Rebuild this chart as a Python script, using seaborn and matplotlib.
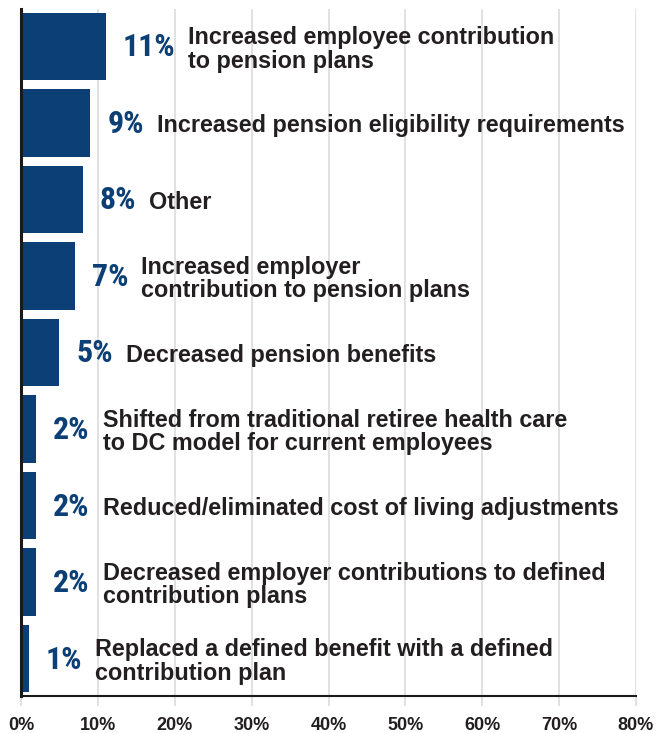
import matplotlib
matplotlib.use("Agg")
import matplotlib.pyplot as plt
import seaborn as sns
import pandas as pd

labels = [
    "Increased employee contribution\nto pension plans",
    "Increased pension eligibility requirements",
    "Other",
    "Increased employer\ncontribution to pension plans",
    "Decreased pension benefits",
    "Shifted from traditional retiree health care\nto DC model for current employees",
    "Reduced/eliminated cost of living adjustments",
    "Decreased employer contributions to defined\ncontribution plans",
    "Replaced a defined benefit with a defined\ncontribution plan",
]
values = [11, 9, 8, 7, 5, 2, 2, 2, 1]
xticks = [0, 10, 20, 30, 40, 50, 60, 70, 80]
xticklabels = ["0%", "10%", "20%", "30%", "40%", "50%", "60%", "70%", "80%"]

NAVY = "#0b3f75"
DARK = "#231f20"

sns.set_theme(style="white")
plt.rcParams["font.family"] = ["Liberation Sans", "DejaVu Sans"]

PCT_FAMILY = ["Roboto Condensed", "Liberation Sans", "DejaVu Sans"]

df = pd.DataFrame({"label": labels, "value": values})

fig = plt.figure(figsize=(6.56, 7.33), dpi=100)
ax = fig.add_axes([21 / 656, 37 / 733, 615 / 656, 687 / 733])

sns.barplot(data=df, x="value", y="label", orient="h", color=NAVY,
            saturation=1, width=0.88, ax=ax, edgecolor="none")

ax.set_xlim(0, 80)
ax.set_ylim(8.49, -0.49)
ax.set_xticks(xticks)
ax.set_xticklabels(xticklabels, fontsize=13, fontweight="bold", color=DARK)
ax.set_yticks([])
ax.set_xlabel("")
ax.set_ylabel("")
ax.xaxis.grid(True, color="#dcdcdc", linewidth=1.2)
ax.set_axisbelow(True)
ax.tick_params(axis="x", length=7, width=1.2, color="#dcdcdc", pad=8, bottom=True)
for s in ["top", "right"]:
    ax.spines[s].set_visible(False)
ax.spines["left"].set_color("#1a1a1a")
ax.spines["left"].set_linewidth(2.2)
ax.spines["bottom"].set_color("#1a1a1a")
ax.spines["bottom"].set_linewidth(1.5)

pct_texts = []
for i, v in enumerate(values):
    t = ax.annotate(f"{v}%", xy=(v, i), xytext=(17, -1), textcoords="offset pixels",
                    ha="left", va="center", fontsize=23, fontweight="bold",
                    color=NAVY, family=PCT_FAMILY)
    pct_texts.append(t)

fig.canvas.draw()
renderer = fig.canvas.get_renderer()
for i, (v, t) in enumerate(zip(values, pct_texts)):
    bb = t.get_window_extent(renderer)
    bar_end = ax.transData.transform((v, i))[0]
    off = bb.x1 - bar_end + 13
    ax.annotate(labels[i], xy=(v, i), xytext=(off, -3), textcoords="offset pixels",
                ha="left", va="center", fontsize=16.8, fontweight="bold",
                color=DARK, linespacing=1.02)

fig.savefig("out.png", dpi=100)
